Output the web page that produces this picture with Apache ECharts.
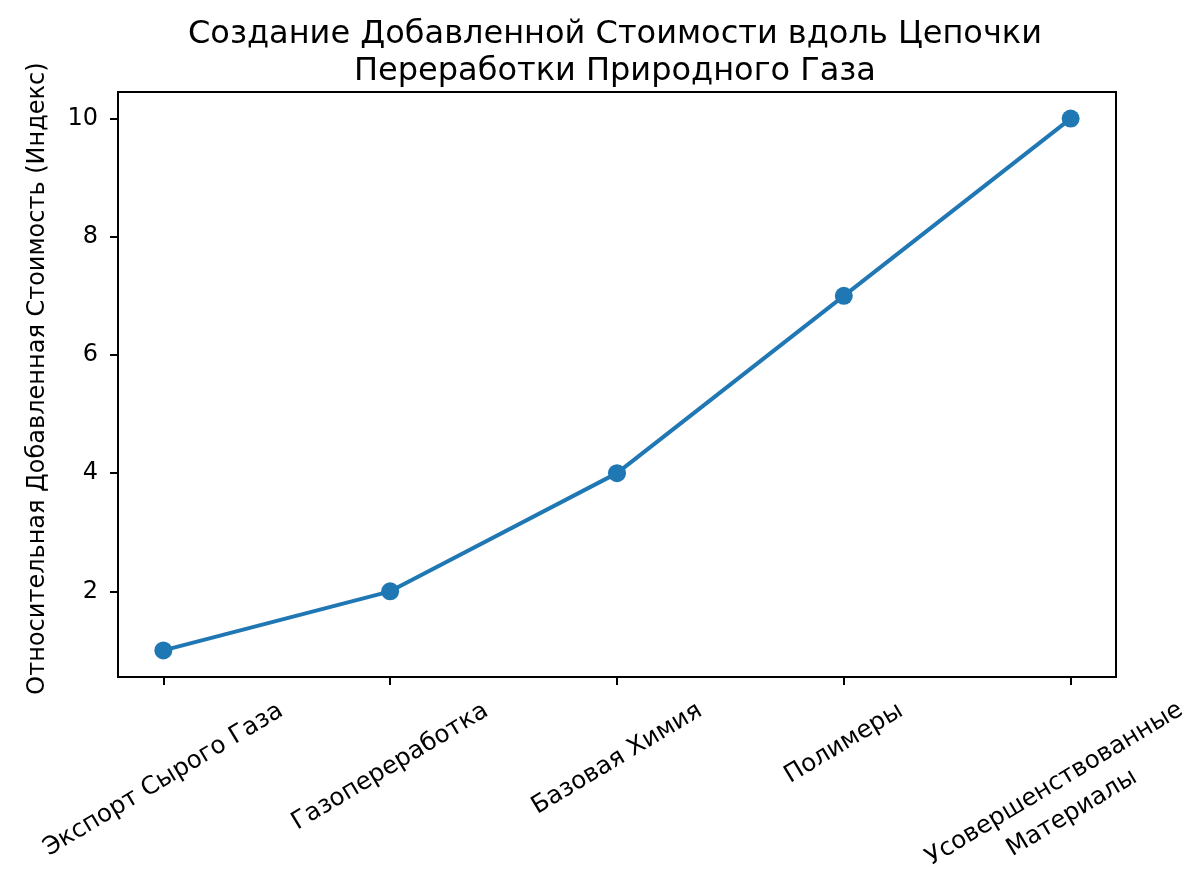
<!DOCTYPE html>
<html>
<head>
<meta charset="utf-8">
<script src="https://cdn.jsdelivr.net/npm/echarts@6/dist/echarts.min.js"></script>
<style>
  html, body { margin: 0; padding: 0; background: #fff; }
  #chart { width: 1200px; height: 896px; }
</style>
</head>
<body>
<div id="chart"></div>
<script>
const categories = ['Экспорт Сырого Газа', 'Газопереработка', 'Базовая Химия', 'Полимеры', 'Усовершенствованные\nМатериалы']
const values = [1, 2, 4, 7, 10]
const yTicks = [2, 4, 6, 8, 10]
const xTicks = [0, 1, 2, 3, 4]

const FONT = '"DejaVu Sans", sans-serif'
const tickSize = 24
const catSize = 24.5
const rot = 31
const labelPad = 20

// matplotlib centres the rotated label box under its tick; echarts rotates round the anchor,
// so each label gets its own axis with a margin of half its rotated height
const ctx = document.createElement('canvas').getContext('2d')
ctx.font = catSize + 'px ' + FONT
const rad = rot * Math.PI / 180

const makeLabelAxis = (i) => {
    const lines = categories[i].split('\n')
    const multi = lines.length > 1
    const lineH = multi ? 34 : 28
    const w = Math.max(...lines.map(l => ctx.measureText(l).width))
    const h = w * Math.sin(rad) + lines.length * lineH * Math.cos(rad)
    // the two-line label sits a bit left of and above where a plain centred box would go
    const dx = multi ? -10 : 0
    const dy = multi ? -8 : 0
    const a = dx * Math.cos(rad)
    const b = dx * Math.sin(rad)
    return {
        type: 'value',
        min: -0.2,
        max: 4.2,
        position: 'bottom',
        splitLine: { show: false },
        axisLine: { show: false },
        axisTick: { show: false },
        axisLabel: {
            customValues: [xTicks[i]],
            rotate: rot,
            align: 'center',
            verticalAlign: 'middle',
            margin: labelPad + h / 2 + dy,
            padding: [0, -2 * a, -2 * b, 0],
            lineHeight: lineH,
            fontFamily: FONT,
            fontSize: catSize,
            color: '#000',
            formatter: () => categories[i],
        },
    }
}

const chart = echarts.init(document.getElementById('chart'), null, { renderer: 'canvas' })
chart.setOption({
    animation: false,
    backgroundColor: '#fff',
    title: {
        text: 'Создание Добавленной Стоимости вдоль Цепочки\nПереработки Природного Газа',
        left: 610,
        textAlign: 'center',
        top: 11,
        textStyle: { fontFamily: FONT, fontSize: 32, fontWeight: 'normal', color: '#000', lineHeight: 37 },
    },
    grid: {
        left: 118, right: 84, top: 92, bottom: 219,
        containLabel: false,
        outerBoundsMode: 'none',
        show: true, borderColor: '#000', borderWidth: 2, backgroundColor: 'transparent',
    },
    xAxis: [{
        type: 'value',
        min: -0.2,
        max: 4.2,
        position: 'bottom',
        splitLine: { show: false },
        axisLine: { show: true, onZero: false, lineStyle: { color: '#000', width: 2 } },
        axisTick: { show: true, customValues: xTicks, length: 8, lineStyle: { color: '#000', width: 2 } },
        axisLabel: { show: false },
    }].concat(xTicks.map((t, i) => makeLabelAxis(i))),
    yAxis: {
        type: 'value',
        min: 0.55,
        max: 10.45,
        name: 'Относительная Добавленная Стоимость (Индекс)',
        nameLocation: 'middle',
        nameGap: 68,
        nameTextStyle: { fontFamily: FONT, fontSize: 24, color: '#000', padding: [0, 0, 0, 12] },
        splitLine: { show: false },
        axisLine: { show: true, onZero: false, lineStyle: { color: '#000', width: 2 } },
        axisTick: { show: true, customValues: yTicks, length: 8, lineStyle: { color: '#000', width: 2 } },
        axisLabel: {
            customValues: yTicks,
            margin: 20,
            fontFamily: FONT,
            fontSize: tickSize,
            color: '#000',
        },
    },
    series: [{
        type: 'line',
        xAxisIndex: 0,
        data: values.map((v, i) => [i, v]),
        symbol: 'circle',
        symbolSize: 18,
        lineStyle: { color: '#1f77b4', width: 4 },
        itemStyle: { color: '#1f77b4' },
    }],
})
</script>
</body>
</html>
